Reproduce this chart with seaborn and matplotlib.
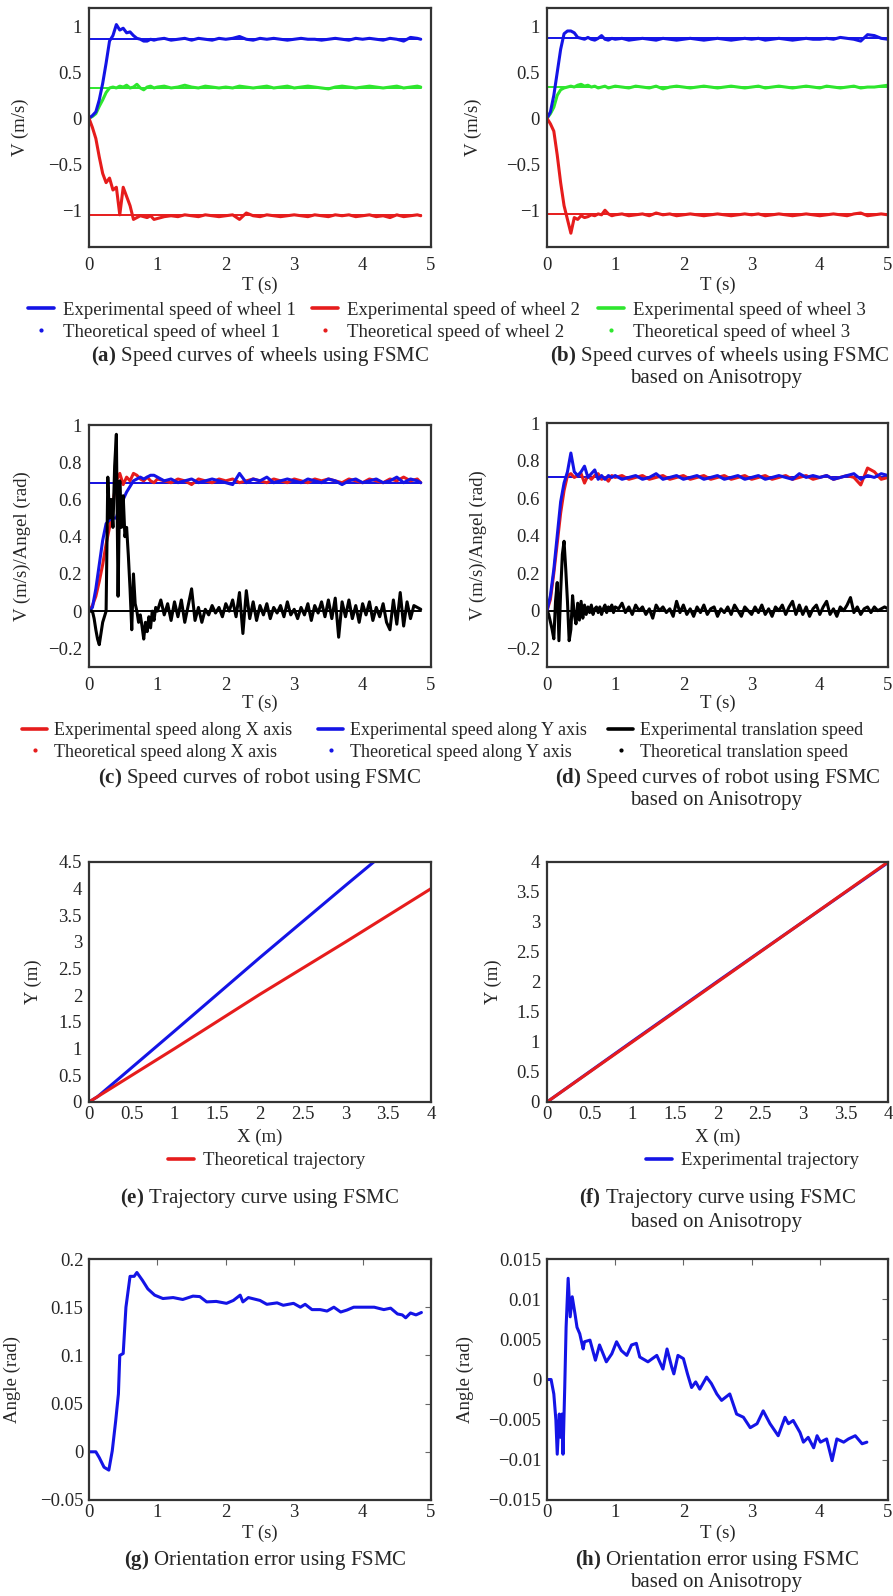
import matplotlib
matplotlib.use("Agg")
import matplotlib.pyplot as plt
from matplotlib.lines import Line2D
from matplotlib.ticker import FuncFormatter
import seaborn as sns

# ---------------- data ----------------
T_A = [0, 0.05, 0.1, 0.15, 0.2, 0.25, 0.3, 0.35, 0.4, 0.45,
       0.5, 0.55, 0.6, 0.65, 0.7, 0.75, 0.8, 0.85, 0.9, 0.95,
       1.0, 1.1, 1.2, 1.3, 1.4, 1.5, 1.6, 1.7, 1.8, 1.9,
       2.0, 2.1, 2.2, 2.3, 2.4, 2.5, 2.6, 2.7, 2.8, 2.9,
       3.0, 3.1, 3.2, 3.3, 3.4, 3.5, 3.6, 3.7, 3.8, 3.9,
       4.0, 4.1, 4.2, 4.3, 4.4, 4.5, 4.6, 4.7, 4.8, 4.85]
T_B = T_A[:50] + [4.0, 4.1, 4.2, 4.3, 4.4, 4.5, 4.6, 4.7, 4.8, 4.9, 5.0]

# (a) wheel speeds, FSMC
A_W1 = [0, 0.03, 0.07, 0.2, 0.38, 0.6, 0.84, 0.9, 1.02, 0.96,
        0.98, 0.93, 0.94, 0.9, 0.87, 0.86, 0.84, 0.84, 0.86, 0.85,
        0.86, 0.87, 0.85, 0.86, 0.87, 0.85, 0.87, 0.86, 0.85, 0.87,
        0.86, 0.87, 0.89, 0.86, 0.85, 0.87, 0.86, 0.87, 0.86, 0.85,
        0.86, 0.87, 0.86, 0.86, 0.85, 0.86, 0.87, 0.86, 0.85, 0.87,
        0.86, 0.87, 0.86, 0.85, 0.87, 0.86, 0.84, 0.88, 0.87, 0.86]
A_W2 = [0, -0.1, -0.22, -0.42, -0.6, -0.7, -0.65, -0.78, -0.75, -1.05,
        -0.75, -0.85, -0.95, -1.1, -1.08, -1.06, -1.07, -1.08, -1.06, -1.1,
        -1.09, -1.07, -1.06, -1.07, -1.05, -1.06, -1.07, -1.05, -1.06, -1.07,
        -1.06, -1.05, -1.1, -1.03, -1.06, -1.07, -1.05, -1.06, -1.07, -1.06,
        -1.05, -1.06, -1.07, -1.05, -1.06, -1.07, -1.05, -1.06, -1.05, -1.07,
        -1.06, -1.05, -1.07, -1.06, -1.08, -1.05, -1.07, -1.06, -1.05, -1.06]
A_W3 = [0, 0.02, 0.05, 0.13, 0.2, 0.28, 0.33, 0.34, 0.33, 0.35,
        0.34, 0.36, 0.33, 0.34, 0.37, 0.33, 0.31, 0.34, 0.35, 0.33,
        0.34, 0.35, 0.33, 0.34, 0.36, 0.34, 0.33, 0.35, 0.34, 0.33,
        0.34, 0.33, 0.35, 0.34, 0.33, 0.34, 0.35, 0.33, 0.34, 0.35,
        0.33, 0.34, 0.35, 0.34, 0.33, 0.32, 0.34, 0.35, 0.34, 0.33,
        0.34, 0.35, 0.34, 0.33, 0.34, 0.35, 0.33, 0.34, 0.35, 0.34]
A_THEO = [0.86, -1.05, 0.33]

# (b) wheel speeds, FSMC based on anisotropy
B_W1 = [0, 0.07, 0.25, 0.5, 0.75, 0.92, 0.95, 0.95, 0.93, 0.88,
        0.87, 0.86, 0.88, 0.86, 0.85, 0.87, 0.9, 0.86, 0.85, 0.87,
        0.86, 0.87, 0.85, 0.86, 0.87, 0.86, 0.85, 0.87, 0.86, 0.85,
        0.86, 0.87, 0.86, 0.85, 0.86, 0.87, 0.86, 0.85, 0.86, 0.87,
        0.86, 0.87, 0.85, 0.86, 0.87, 0.86, 0.85, 0.86, 0.87, 0.86,
        0.86, 0.87, 0.86, 0.88, 0.87, 0.86, 0.84, 0.91, 0.9, 0.87, 0.86]
B_W2 = [0, -0.06, -0.14, -0.4, -0.7, -0.95, -1.1, -1.25, -1.08, -1.1,
        -1.06, -1.08, -1.07, -1.05, -1.06, -1.04, -1.05, -1.0, -1.04, -1.06,
        -1.05, -1.04, -1.06, -1.05, -1.04, -1.06, -1.03, -1.05, -1.04, -1.06,
        -1.05, -1.04, -1.05, -1.06, -1.05, -1.04, -1.05, -1.06, -1.05, -1.04,
        -1.05, -1.04, -1.06, -1.05, -1.04, -1.05, -1.06, -1.05, -1.04, -1.05,
        -1.06, -1.05, -1.04, -1.05, -1.06, -1.04, -1.03, -1.06, -1.05, -1.04, -1.05]
B_W3 = [0, 0.05, 0.12, 0.25, 0.31, 0.33, 0.34, 0.35, 0.34, 0.36,
        0.37, 0.35, 0.36, 0.34, 0.35, 0.33, 0.34, 0.35, 0.33, 0.34,
        0.35, 0.34, 0.33, 0.35, 0.34, 0.33, 0.35, 0.32, 0.34, 0.35,
        0.34, 0.33, 0.34, 0.35, 0.34, 0.33, 0.34, 0.35, 0.34, 0.33,
        0.34, 0.35, 0.33, 0.34, 0.35, 0.34, 0.33, 0.34, 0.35, 0.34,
        0.33, 0.35, 0.34, 0.33, 0.34, 0.35, 0.33, 0.34, 0.34, 0.35, 0.36]
B_THEO = [0.87, -1.04, 0.34]

# (c) robot speeds, FSMC
C_X = [0, 0.03, 0.08, 0.16, 0.25, 0.36, 0.45, 0.58, 0.7, 0.74,
       0.68, 0.72, 0.7, 0.74, 0.73, 0.71, 0.7, 0.72, 0.7, 0.69,
       0.71, 0.7, 0.69, 0.71, 0.7, 0.68, 0.71, 0.7, 0.69, 0.71,
       0.7, 0.71, 0.69, 0.7, 0.71, 0.7, 0.69, 0.71, 0.7, 0.69,
       0.71, 0.7, 0.69, 0.71, 0.7, 0.71, 0.7, 0.69, 0.71, 0.7,
       0.69, 0.71, 0.7, 0.69, 0.71, 0.7, 0.72, 0.7, 0.71, 0.69]
C_Y = [0, 0.02, 0.12, 0.25, 0.38, 0.47, 0.49, 0.5, 0.5, 0.57,
       0.6, 0.64, 0.67, 0.7, 0.71, 0.72, 0.71, 0.72, 0.73, 0.73,
       0.72, 0.7, 0.71, 0.69, 0.7, 0.71, 0.69, 0.7, 0.71, 0.7,
       0.69, 0.68, 0.74, 0.69, 0.71, 0.7, 0.72, 0.69, 0.7, 0.71,
       0.7, 0.69, 0.71, 0.7, 0.69, 0.71, 0.7, 0.68, 0.7, 0.71,
       0.69, 0.7, 0.71, 0.69, 0.7, 0.72, 0.69, 0.71, 0.7, 0.69]
C_THEO = [0.69, 0.69, 0.0]

T_FINE = [0, 0.025, 0.05, 0.075, 0.1, 0.125, 0.15, 0.175, 0.2, 0.225,
          0.25, 0.275, 0.3, 0.325, 0.35, 0.375, 0.4, 0.425, 0.45, 0.475,
          0.5, 0.525, 0.55, 0.575, 0.6, 0.625, 0.65, 0.675, 0.7, 0.725,
          0.75, 0.775, 0.8, 0.825, 0.85, 0.875, 0.9, 0.925, 0.95, 0.975, 1.0]
T_TAIL_C = [1.05, 1.1, 1.15, 1.2, 1.25, 1.3, 1.35, 1.4, 1.45, 1.5,
            1.55, 1.6, 1.65, 1.7, 1.75, 1.8, 1.85, 1.9, 1.95, 2.0,
            2.05, 2.1, 2.15, 2.2, 2.25, 2.3, 2.35, 2.4, 2.45, 2.5,
            2.55, 2.6, 2.65, 2.7, 2.75, 2.8, 2.85, 2.9, 2.95, 3.0,
            3.05, 3.1, 3.15, 3.2, 3.25, 3.3, 3.35, 3.4, 3.45, 3.5,
            3.55, 3.6, 3.65, 3.7, 3.75, 3.8, 3.85, 3.9, 3.95, 4.0,
            4.05, 4.1, 4.15, 4.2, 4.25, 4.3, 4.35, 4.4, 4.45, 4.5,
            4.55, 4.6, 4.65, 4.7, 4.75, 4.8, 4.85]
T_TAIL_D = T_TAIL_C + [4.9, 4.95, 5.0]

C_TRANS = [0, 0, 0, -0.04, -0.1, -0.15, -0.18, -0.12, -0.06, -0.03,
           0.0, 0.72, 0.5, 0.6, 0.45, 0.78, 0.95, 0.08, 0.7, 0.45,
           0.62, 0.4, 0.45, 0.3, 0.12, -0.1, 0.2, 0.04, 0.0, -0.06,
           -0.02, -0.08, -0.15, -0.06, -0.11, -0.03, -0.09, 0.0, -0.05, 0.02, 0.0,
           0.06, -0.02, 0.04, -0.05, 0.05, -0.03, 0.06, -0.06, 0.03, 0.12,
           -0.05, 0.02, -0.06, 0.01, -0.02, 0.03, -0.01, 0.02, -0.03, 0.04,
           0.0, 0.06, -0.03, 0.1, -0.12, 0.11, -0.04, 0.05, -0.05, 0.03,
           -0.02, 0.04, -0.04, 0.02, -0.01, 0.03, -0.03, 0.05, -0.02, 0.01,
           -0.04, 0.02, -0.02, 0.04, -0.05, 0.03, -0.01, 0.05, -0.03, 0.06,
           -0.04, 0.07, -0.14, 0.05, -0.03, 0.06, -0.04, 0.03, -0.06, 0.04,
           -0.02, 0.05, -0.05, 0.02, -0.03, 0.04, -0.06, -0.1, 0.06, -0.07,
           0.1, -0.08, 0.05, -0.04, 0.03, 0.02, 0.01]

# (d) robot speeds, FSMC based on anisotropy
D_X = [0, 0.06, 0.2, 0.36, 0.52, 0.64, 0.72, 0.73, 0.71, 0.72,
       0.73, 0.68, 0.72, 0.7, 0.72, 0.73, 0.7, 0.71, 0.69, 0.72,
       0.71, 0.72, 0.7, 0.71, 0.72, 0.7, 0.71, 0.72, 0.7, 0.71,
       0.72, 0.7, 0.71, 0.72, 0.7, 0.71, 0.72, 0.7, 0.71, 0.72,
       0.7, 0.71, 0.72, 0.7, 0.71, 0.72, 0.7, 0.71, 0.72, 0.7,
       0.71, 0.72, 0.7, 0.71, 0.72, 0.71, 0.67, 0.76, 0.74, 0.7, 0.71]
D_Y = [0, 0.08, 0.22, 0.4, 0.58, 0.68, 0.74, 0.84, 0.74, 0.72,
       0.74, 0.77, 0.71, 0.73, 0.75, 0.7, 0.72, 0.7, 0.72, 0.71,
       0.72, 0.7, 0.71, 0.72, 0.7, 0.71, 0.73, 0.7, 0.71, 0.72,
       0.7, 0.71, 0.72, 0.7, 0.71, 0.72, 0.7, 0.71, 0.72, 0.7,
       0.71, 0.72, 0.7, 0.71, 0.72, 0.71, 0.7, 0.73, 0.71, 0.72,
       0.71, 0.72, 0.7, 0.71, 0.72, 0.73, 0.7, 0.72, 0.71, 0.73, 0.72]
D_THEO = [0.71, 0.71, 0.0]
D_TRANS = [0, -0.02, -0.06, -0.1, -0.15, 0.05, 0.15, -0.16, 0.1, 0.3,
           0.37, 0.22, 0.05, -0.16, -0.1, 0.08, -0.02, -0.07, 0.04, -0.05,
           0.05, -0.04, 0.03, -0.02, 0.02, -0.01, 0.03, -0.02, 0.01, 0.02,
           -0.01, 0.02, -0.02, 0.01, 0.03, -0.01, 0.02, 0.0, 0.03, -0.01, 0.02,
           0.01, 0.04, -0.01, 0.02, -0.02, 0.03, 0.0, 0.02, -0.02, 0.01,
           -0.04, 0.03, 0.0, 0.02, -0.01, 0.01, -0.03, 0.05, -0.01, 0.03,
           -0.02, 0.01, -0.03, 0.02, -0.01, 0.03, -0.02, 0.01, 0.02, -0.03,
           0.01, -0.01, 0.02, -0.02, 0.03, 0.0, -0.03, 0.02, 0.0, -0.02,
           0.02, -0.01, 0.03, -0.02, 0.01, -0.03, 0.02, 0.0, 0.03, -0.02,
           0.02, 0.05, -0.02, 0.03, -0.02, 0.02, -0.03, 0.01, 0.03, -0.02,
           0.02, 0.05, -0.02, 0.01, -0.03, 0.02, 0.0, 0.03, 0.07, -0.01,
           0.02, -0.02, 0.01, 0.02, -0.01, 0.02, 0.0, 0.01, 0.02, 0.01]

# (e)/(f) trajectories
E_EXP_X = [0, 0.1, 0.35, 1.0, 2.0, 3.0, 3.33]
E_EXP_Y = [0, 0.1, 0.44, 1.33, 2.71, 4.06, 4.5]
E_THEO_X = [0, 1, 2, 3, 4]
E_THEO_Y = [0, 1, 2.02, 3, 4]
F_EXP_X = [0, 1, 2, 3, 4]
F_EXP_Y = [0, 1.01, 2.01, 3.0, 3.99]
F_THEO_X = [0, 1, 2, 3, 4]
F_THEO_Y = [0, 1, 2, 3, 4]

# (g) orientation error, FSMC
G_T = [0, 0.1, 0.15, 0.22, 0.29, 0.34, 0.39, 0.43, 0.45, 0.5,
       0.54, 0.6, 0.66, 0.7, 0.78, 0.86, 0.96, 1.08, 1.23, 1.37,
       1.52, 1.62, 1.72, 1.86, 2.01, 2.11, 2.21, 2.25, 2.33, 2.5,
       2.6, 2.75, 2.84, 2.99, 3.09, 3.16, 3.26, 3.38, 3.48, 3.58,
       3.68, 3.77, 3.87, 4.02, 4.17, 4.31, 4.41, 4.51, 4.58, 4.63,
       4.7, 4.78, 4.86]
G_ANG = [0, 0, -0.006, -0.016, -0.019, 0.001, 0.032, 0.06, 0.1, 0.102,
         0.15, 0.182, 0.182, 0.186, 0.178, 0.169, 0.1625, 0.159, 0.16, 0.158,
         0.1615, 0.161, 0.1555, 0.156, 0.154, 0.157, 0.1625, 0.1555, 0.16, 0.157,
         0.153, 0.1545, 0.152, 0.154, 0.15, 0.153, 0.1475, 0.1475, 0.146, 0.15,
         0.145, 0.147, 0.15, 0.15, 0.15, 0.1475, 0.149, 0.143, 0.142, 0.139,
         0.144, 0.142, 0.1445]

# (h) orientation error, FSMC based on anisotropy
H_T = [0, 0.06, 0.1, 0.13, 0.15, 0.18, 0.2, 0.22, 0.235, 0.26,
       0.28, 0.31, 0.34, 0.37, 0.41, 0.44, 0.48, 0.53, 0.55, 0.63,
       0.71, 0.77, 0.87, 0.95, 1.02, 1.09, 1.17, 1.24, 1.31, 1.36,
       1.48, 1.61, 1.7, 1.76, 1.83, 1.86, 1.92, 2.0, 2.06, 2.12,
       2.18, 2.24, 2.34, 2.41, 2.49, 2.56, 2.68, 2.78, 2.88, 2.98,
       3.08, 3.17, 3.27, 3.39, 3.49, 3.54, 3.61, 3.71, 3.76, 3.83,
       3.91, 3.96, 4.01, 4.1, 4.18, 4.25, 4.35, 4.42, 4.52, 4.62, 4.69]
H_ANG = [0, 0, -0.0018, -0.005, -0.0093, -0.0043, -0.0072, -0.0043, -0.0093, -0.001,
         0.0065, 0.0126, 0.0078, 0.0103, 0.0082, 0.0065, 0.0057, 0.0038, 0.0047, 0.0049,
         0.0024, 0.0043, 0.0022, 0.0032, 0.0047, 0.0036, 0.003, 0.0043, 0.0045, 0.0028,
         0.0022, 0.003, 0.0013, 0.0038, 0.0015, 0.0007, 0.003, 0.0026, 0.0007, -0.001,
         -0.0003, -0.0012, 0.0003, -0.0005, -0.0018, -0.0026, -0.0018, -0.0043, -0.0047, -0.006,
         -0.0055, -0.0039, -0.0055, -0.007, -0.0047, -0.0055, -0.0051, -0.0066, -0.0078, -0.0072,
         -0.0085, -0.007, -0.0078, -0.0074, -0.0101, -0.0074, -0.0078, -0.0074, -0.007, -0.008, -0.0078]

# ---------------- style ----------------
sns.set_style("white")
plt.rcParams["font.family"] = ["Liberation Serif", "DejaVu Serif"]
plt.rcParams["mathtext.fontset"] = "custom"
plt.rcParams["mathtext.rm"] = "Liberation Serif"
plt.rcParams["mathtext.bf"] = "Liberation Serif:bold"
plt.rcParams["axes.unicode_minus"] = True

BLUE = "#1414e6"
RED = "#e61c1c"
GREEN = "#2ee62e"
BLACK = "#000000"
LW = 2.2
TICK_FS = 13.5
LAB_FS = 13.5
CAP_FS = 15

W, H = 893, 1596
fig = plt.figure(figsize=(W / 100, H / 100), dpi=100)


def fmt(v, pos):
    s = "%g" % round(v, 6)
    return s.replace("-", "\u2212")


def new_axes(box, xlim, ylim, xticks, yticks, xlabel, ylabel, xl_y, yl_x,
             ticks_in=False, pad=7):
    x0, y0, x1, y1 = box
    ax = fig.add_axes([x0 / W, 1 - y1 / H, (x1 - x0) / W, (y1 - y0) / H])
    ax.set_xlim(*xlim)
    ax.set_ylim(*ylim)
    ax.set_xticks(xticks)
    ax.set_yticks(yticks)
    ax.xaxis.set_major_formatter(FuncFormatter(fmt))
    ax.yaxis.set_major_formatter(FuncFormatter(fmt))
    if ticks_in:
        ax.tick_params(direction="in", length=4, width=0.8, color="#666666",
                       top=True, right=True, labelsize=TICK_FS)
        ax.tick_params(axis="x", pad=pad)
        ax.tick_params(axis="y", pad=4)
    else:
        ax.tick_params(length=0, labelsize=TICK_FS)
        ax.tick_params(axis="x", pad=pad)
        ax.tick_params(axis="y", pad=5)
    for sp in ax.spines.values():
        sp.set_color("#333333")
        sp.set_linewidth(1.6)
    ax.set_xlabel(xlabel, fontsize=LAB_FS)
    ax.set_ylabel(ylabel, fontsize=LAB_FS)
    w = x1 - x0
    h = y1 - y0
    ax.xaxis.set_label_coords(0.5, -(xl_y - y1) / h)
    ax.xaxis.label.set_va("center")
    ax.yaxis.set_label_coords((yl_x - x0) / w, 0.5)
    ax.yaxis.label.set_va("center")
    return ax


def line(ax, x, y, color, lw=LW, z=2):
    sns.lineplot(x=x, y=y, ax=ax, color=color, linewidth=lw,
                 estimator=None, sort=False, legend=False, zorder=z)


def caption(cx, cy, text, fs=CAP_FS):
    fig.text(cx / W, 1 - cy / H, text, ha="center", va="center", fontsize=fs)


def legend_col(handles, labels, x, y_top, fs, spacing, tpad=0.45):
    fig.legend(handles, labels, loc="upper left",
               bbox_to_anchor=(x / W, 1 - y_top / H), frameon=False,
               borderpad=0, borderaxespad=0, handlelength=1.4,
               handletextpad=tpad, labelspacing=spacing, fontsize=fs)


V_TICKS = [-1, -0.5, 0, 0.5, 1]
T_TICKS = [0, 1, 2, 3, 4, 5]

# (a)
ax = new_axes((89, 8, 431, 247), (0, 5), (-1.4, 1.2), T_TICKS, V_TICKS,
              "T (s)", "V (m/s)", 285, 20)
for v, c in zip(A_THEO, [BLUE, RED, GREEN]):
    line(ax, T_A, [v] * len(T_A), c, lw=1.4, z=1)
line(ax, T_A, A_W3, GREEN)
line(ax, T_A, A_W1, BLUE)
line(ax, T_A, A_W2, RED)

# (b)
ax = new_axes((547, 8, 888, 247), (0, 5), (-1.4, 1.2), T_TICKS, V_TICKS,
              "T (s)", "V (m/s)", 285, 473)
for v, c in zip(B_THEO, [BLUE, RED, GREEN]):
    line(ax, T_B, [v] * len(T_B), c, lw=1.4, z=1)
line(ax, T_B, B_W3, GREEN)
line(ax, T_B, B_W1, BLUE)
line(ax, T_B, B_W2, RED)

R_TICKS = [-0.2, 0, 0.2, 0.4, 0.6, 0.8, 1]
# (c)
ax = new_axes((89, 425, 431, 667), (0, 5), (-0.3, 1.0), T_TICKS, R_TICKS,
              "T (s)", "V (m/s)/Angel (rad)", 703, 22)
for v, c in zip(C_THEO, [RED, BLUE, BLACK]):
    line(ax, T_A, [v] * len(T_A), c, lw=1.4, z=1)
line(ax, T_A, C_X, RED)
line(ax, T_A, C_Y, BLUE)
line(ax, T_FINE + T_TAIL_C, C_TRANS, BLACK)

# (d)
ax = new_axes((547, 423, 888, 667), (0, 5), (-0.3, 1.0), T_TICKS, R_TICKS,
              "T (s)", "V (m/s)/Angel (rad)", 703, 478)
for v, c in zip(D_THEO, [RED, BLUE, BLACK]):
    line(ax, T_B, [v] * len(T_B), c, lw=1.4, z=1)
line(ax, T_B, D_X, RED)
line(ax, T_B, D_Y, BLUE)
line(ax, T_FINE + T_TAIL_D, D_TRANS, BLACK)

X_TICKS = [0, 0.5, 1, 1.5, 2, 2.5, 3, 3.5, 4]
# (e)
ax = new_axes((89, 862, 431, 1102), (0, 4), (0, 4.5), X_TICKS,
              [0, 0.5, 1, 1.5, 2, 2.5, 3, 3.5, 4, 4.5],
              "X (m)", "Y (m)", 1137, 33, pad=3)
line(ax, E_EXP_X, E_EXP_Y, BLUE)
line(ax, E_THEO_X, E_THEO_Y, RED)

# (f)
ax = new_axes((547, 862, 888, 1102), (0, 4), (0, 4), X_TICKS, X_TICKS,
              "X (m)", "Y (m)", 1137, 493, pad=3)
line(ax, F_EXP_X, F_EXP_Y, BLUE)
line(ax, F_THEO_X, F_THEO_Y, RED)

# (g)
ax = new_axes((89, 1259, 431, 1500), (0, 5), (-0.05, 0.2), T_TICKS,
              [-0.05, 0, 0.05, 0.1, 0.15, 0.2],
              "T (s)", "Angle (rad)", 1533, 12, ticks_in=True, pad=3)
line(ax, G_T, G_ANG, BLUE)

# (h)
ax = new_axes((547, 1259, 888, 1500), (0, 5), (-0.015, 0.015), T_TICKS,
              [-0.015, -0.01, -0.005, 0, 0.005, 0.01, 0.015],
              "T (s)", "Angle (rad)", 1533, 465, ticks_in=True, pad=3)
line(ax, H_T, H_ANG, BLUE)

# ---------------- legends ----------------
def exp_h(c):
    return Line2D([], [], color=c, linewidth=2.6)


def theo_h(c):
    return Line2D([], [], color=c, marker=".", markersize=4, linestyle="none")


for i, c in enumerate([BLUE, RED, GREEN]):
    legend_col([exp_h(c), theo_h(c)],
               ["Experimental speed of wheel %d" % (i + 1),
                "Theoretical speed of wheel %d" % (i + 1)],
               [28, 312, 598][i], 301, 13.5, 0.22)

names = ["X axis", "Y axis", "translation speed"]
for i, c in enumerate([RED, BLUE, BLACK]):
    if i < 2:
        labs = ["Experimental speed along " + names[i],
                "Theoretical speed along " + names[i]]
    else:
        labs = ["Experimental " + names[i], "Theoretical " + names[i]]
    legend_col([exp_h(c), theo_h(c)], labs, [22, 318, 608][i], 722, 13,
               0.25, tpad=0.4)

legend_col([exp_h(RED)], ["Theoretical trajectory"], 168, 1152, 13.5, 0.2)
legend_col([exp_h(BLUE)], ["Experimental trajectory"], 646, 1152, 13.5, 0.2)

# ---------------- captions ----------------
caption(260, 356, r"$\mathbf{(a)}$ Speed curves of wheels using FSMC")
caption(720, 356, r"$\mathbf{(b)}$ Speed curves of wheels using FSMC")
caption(716, 379, "based on Anisotropy")
caption(260, 778, r"$\mathbf{(c)}$ Speed curves of robot using FSMC")
caption(718, 778, r"$\mathbf{(d)}$ Speed curves of robot using FSMC")
caption(716, 801, "based on Anisotropy")
caption(260, 1198, r"$\mathbf{(e)}$ Trajectory curve using FSMC")
caption(717, 1198, r"$\mathbf{(f)}$ Trajectory curve using FSMC")
caption(716, 1223, "based on Anisotropy")
caption(265, 1560, r"$\mathbf{(g)}$ Orientation error using FSMC")
caption(717, 1560, r"$\mathbf{(h)}$ Orientation error using FSMC")
caption(716, 1583, "based on Anisotropy")

fig.savefig("out.png", dpi=100)
